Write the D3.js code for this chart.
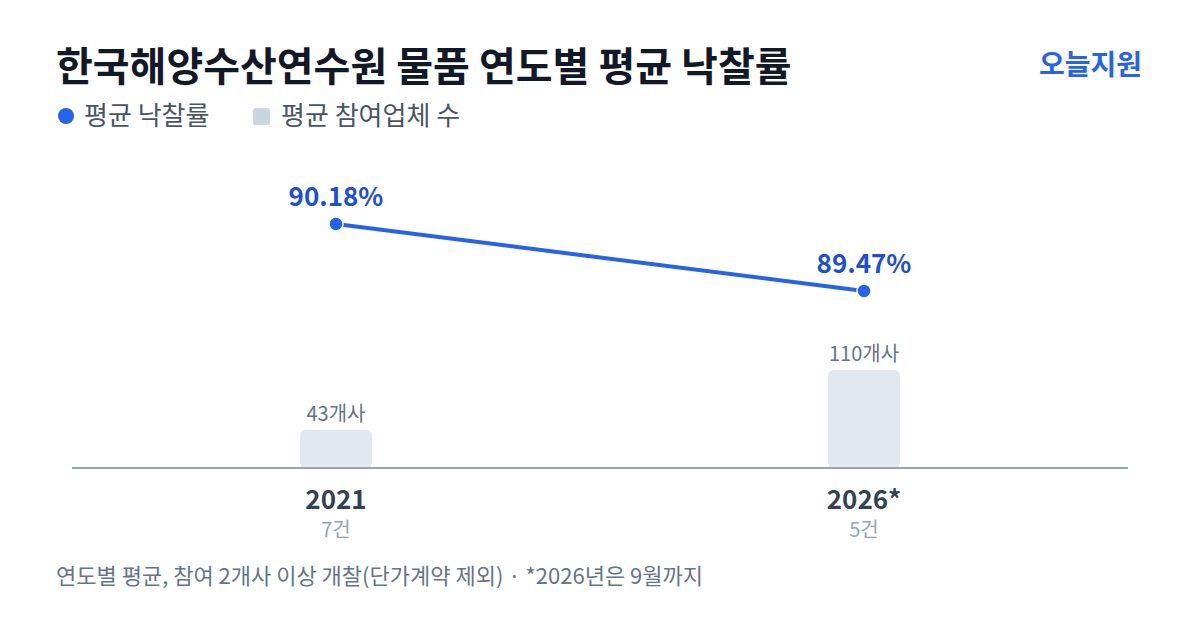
<!DOCTYPE html>
<html>
<head>
<meta charset="utf-8">
<script src="https://cdn.jsdelivr.net/npm/d3@7"></script>
<style>
  body { margin: 0; background: #fff; }
  svg { display: block; font-family: "Noto Sans CJK KR", "Noto Sans", sans-serif; }
</style>
</head>
<body>
<div id="root"></div>
<script>
const years = ["2021", "2026*"]
const rates = [90.18, 89.47]
const firms = [43, 110]
const cases = [7, 5]
const rateLabels = ["90.18%", "89.47%"]
const firmLabels = ["43개사", "110개사"]
const caseLabels = ["7건", "5건"]

const width = 1200, height = 630
const axisY = 468

const svg = d3.select("#root").append("svg")
  .attr("width", width).attr("height", height)

svg.append("rect").attr("width", width).attr("height", height).attr("fill", "#fff")

// title + brand
svg.append("text").attr("x", 56).attr("y", 81)
  .attr("font-size", 40).attr("font-weight", 700).attr("fill", "#111827")
  .text("한국해양수산연수원 물품 연도별 평균 낙찰률")
svg.append("text").attr("x", 1142).attr("y", 75).attr("text-anchor", "end")
  .attr("font-size", 28).attr("font-weight", 700).attr("fill", "#2563eb")
  .text("오늘지원")

// legend
svg.append("circle").attr("cx", 66).attr("cy", 116).attr("r", 8).attr("fill", "#2563eb")
svg.append("text").attr("x", 84).attr("y", 125).attr("font-size", 26).attr("fill", "#475569").text("평균 낙찰률")
svg.append("rect").attr("x", 253).attr("y", 108).attr("width", 17).attr("height", 17).attr("rx", 3).attr("fill", "#cbd5e1")
svg.append("text").attr("x", 281).attr("y", 125).attr("font-size", 26).attr("fill", "#475569").text("평균 참여업체 수")

// scales
const x = d3.scalePoint().domain(years).range([336, 864])
const yBar = d3.scaleLinear().domain([0, 110]).range([axisY, 370])
const yRate = d3.scaleLinear().domain(d3.extent(rates)).range([291, 224])

const rows = years.map((y, i) => ({ year: y, rate: rates[i], firm: firms[i], cs: cases[i],
  rl: rateLabels[i], fl: firmLabels[i], cl: caseLabels[i] }))

// bars
const barW = 72
svg.selectAll("rect.bar").data(rows).join("rect")
  .attr("class", "bar")
  .attr("x", d => x(d.year) - barW / 2)
  .attr("y", d => yBar(d.firm))
  .attr("width", barW)
  .attr("height", d => axisY - yBar(d.firm))
  .attr("rx", 6)
  .attr("fill", "#e2e8f0")

svg.selectAll("text.firm").data(rows).join("text")
  .attr("class", "firm")
  .attr("x", d => x(d.year))
  .attr("y", d => yBar(d.firm) - 9)
  .attr("text-anchor", "middle").attr("font-size", 20).attr("fill", "#64748b")
  .text(d => d.fl)

// axis line
svg.append("line").attr("x1", 72).attr("x2", 1128).attr("y1", axisY).attr("y2", axisY)
  .attr("stroke", "#94a3b8").attr("stroke-width", 2)

// year labels
svg.selectAll("text.year").data(rows).join("text")
  .attr("class", "year")
  .attr("x", d => x(d.year)).attr("y", 509)
  .attr("text-anchor", "middle").attr("font-size", 26).attr("font-weight", 700).attr("fill", "#334155")
  .text(d => d.year)
svg.selectAll("text.cases").data(rows).join("text")
  .attr("class", "cases")
  .attr("x", d => x(d.year)).attr("y", 537)
  .attr("text-anchor", "middle").attr("font-size", 20).attr("fill", "#94a3b8")
  .text(d => d.cl)

// rate line
svg.append("path").datum(rows)
  .attr("d", d3.line().x(d => x(d.year)).y(d => yRate(d.rate)))
  .attr("fill", "none").attr("stroke", "#2563eb").attr("stroke-width", 4)
svg.selectAll("circle.pt").data(rows).join("circle")
  .attr("class", "pt")
  .attr("cx", d => x(d.year)).attr("cy", d => yRate(d.rate)).attr("r", 7)
  .attr("fill", "#2563eb").attr("stroke", "#fff").attr("stroke-width", 1.5)
svg.selectAll("text.rate").data(rows).join("text")
  .attr("class", "rate")
  .attr("x", d => x(d.year)).attr("y", d => yRate(d.rate) - 18)
  .attr("text-anchor", "middle").attr("font-size", 26).attr("font-weight", 700).attr("fill", "#1d4ed8")
  .text(d => d.rl)

// footnote
svg.append("text").attr("x", 56).attr("y", 584)
  .attr("font-size", 22).attr("fill", "#64748b")
  .text("연도별 평균, 참여 2개사 이상 개찰(단가계약 제외) · *2026년은 9월까지")
</script>
</body>
</html>
